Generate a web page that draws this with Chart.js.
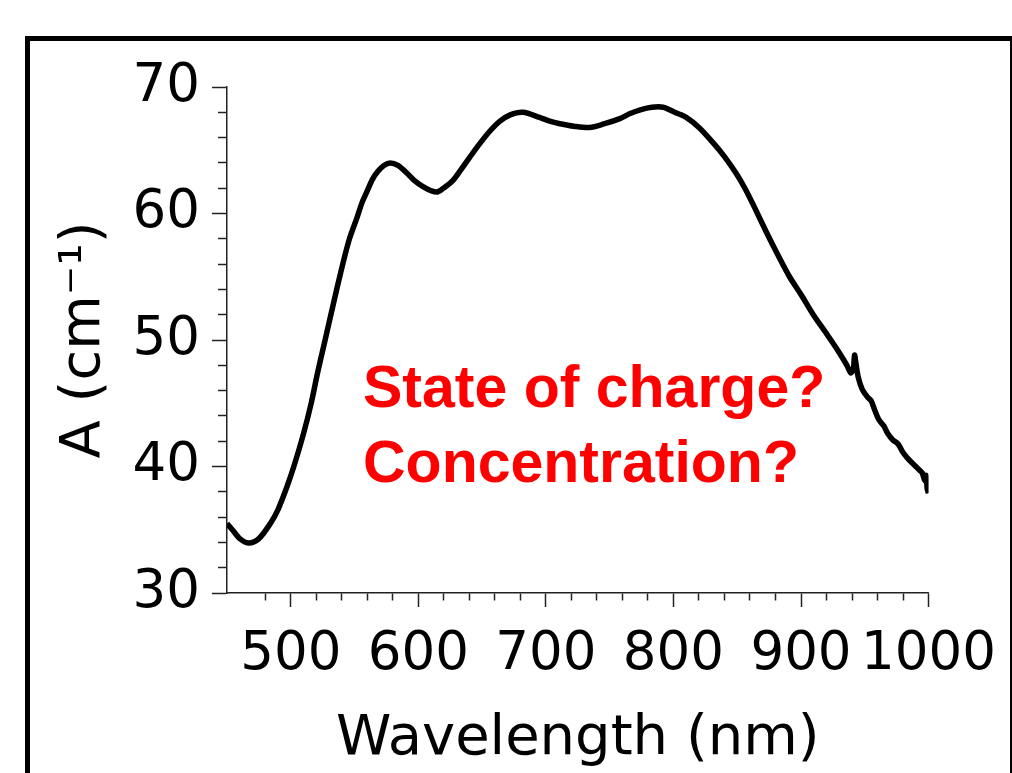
<!DOCTYPE html>
<html>
<head>
<meta charset="utf-8">
<script src="https://cdn.jsdelivr.net/npm/chart.js@4/dist/chart.umd.min.js"></script>
<style>
  html, body { margin: 0; padding: 0; background: #fff; }
  canvas { display: block; }
</style>
</head>
<body>
<canvas id="myChart" width="1012" height="773"></canvas>
<script>
// wavelength (nm) and absorbance A (cm-1)
const wavelengths = [450, 455, 460, 467, 475, 484, 490, 497, 503, 510, 516, 521, 526, 531, 536, 541, 546, 552, 556, 560,
  564, 568, 573, 578, 584, 591, 597, 604, 610, 615, 621, 627, 633, 640, 648, 656, 664, 672, 682, 695,
  703, 711, 722, 734, 746, 758, 766, 774, 783, 792, 801, 810, 820, 831, 840, 849, 856, 863, 873, 882,
  891, 900, 909, 920, 930, 936, 939, 941, 942, 943, 945, 948, 952, 955, 958, 961, 965, 968, 972, 976,
  980, 984, 987, 990, 993, 995, 997, 998, 999, 1000];
const absorbance = [35.5, 34.9, 34.3, 33.95, 34.3, 35.5, 36.6, 38.4, 40.2, 42.6, 45.0, 47.4, 49.6, 51.8, 54.0, 56.1, 58.0, 59.7, 60.9, 61.8,
  62.7, 63.3, 63.8, 64.0, 63.8, 63.2, 62.6, 62.1, 61.8, 61.7, 62.1, 62.6, 63.4, 64.4, 65.5, 66.5, 67.3, 67.8, 68.0, 67.6,
  67.3, 67.1, 66.9, 66.8, 67.1, 67.5, 67.9, 68.2, 68.4, 68.4, 68.0, 67.6, 66.8, 65.6, 64.5, 63.2, 62.0, 60.6, 58.5, 56.7,
  55.0, 53.6, 52.1, 50.5, 49.0, 48.0, 47.4, 47.7, 48.8, 48.2, 47.0, 46.1, 45.5, 45.2, 44.4, 43.7, 43.2, 42.6, 42.1, 41.8,
  41.1, 40.6, 40.3, 40.0, 39.7, 39.5, 38.9, 39.3, 38.2, 37.9];
const xRange = [450, 1000];
const yRange = [30, 70];
const xTitle = 'Wavelength (nm)';
const yTitle = 'A (cm\u207B\u00B9)';
const notes = ['State of charge?', 'Concentration?'];

const axisFont = 'DejaVu Sans';

let points = [];
wavelengths.forEach(function (w, i) {
  points.push({ x: w, y: absorbance[i] });
});

// black frame round the figure
const framePlugin = {
  id: 'frame',
  beforeDraw: function (chart) {
    const c = chart.ctx;
    c.save();
    c.fillStyle = '#fff';
    c.fillRect(0, 0, chart.width, chart.height);
    c.strokeStyle = '#000';
    c.lineWidth = 5;
    c.strokeRect(27.5, 38.5, 985, 800);
    c.restore();
  }
};

// red question text
const notesPlugin = {
  id: 'notes',
  afterDraw: function (chart) {
    const c = chart.ctx;
    c.save();
    c.fillStyle = '#ff0000';
    c.font = 'bold 59px "Liberation Sans"';
    c.textAlign = 'left';
    c.textBaseline = 'alphabetic';
    c.fillText(notes[0], 363, 407);
    c.fillText(notes[1], 363, 482);
    c.restore();
  }
};

new Chart(document.getElementById('myChart'), {
  type: 'scatter',
  data: {
    datasets: [{
      data: points,
      showLine: true,
      borderColor: '#000',
      borderWidth: 5.5,
      pointRadius: 0,
      tension: 0.3,
      fill: false
    }]
  },
  options: {
    responsive: false,
    animation: false,
    layout: { padding: { top: 87, right: 82, left: 0, bottom: 0 } },
    plugins: {
      legend: { display: false },
      tooltip: { enabled: false }
    },
    scales: {
      x: {
        type: 'linear',
        min: xRange[0],
        max: xRange[1],
        bounds: 'ticks',
        afterFit: function (s) { s.height = 180; },
        ticks: {
          stepSize: 20,
          includeBounds: true,
          autoSkip: false,
          maxRotation: 0,
          padding: 16,
          color: '#000',
          font: { family: axisFont, size: 53 },
          callback: function (v) { return (v % 100 === 0 && v !== xRange[0]) ? String(v) : ''; }
        },
        grid: {
          drawOnChartArea: false,
          tickLength: 14,
          tickWidth: 1.5,
          tickColor: function (ctx) {
            return (ctx.tick && ctx.tick.value === xRange[0]) ? 'rgba(0,0,0,0)' : '#222';
          },
          tickBorderDash: function (ctx) {
            return (ctx.tick && ctx.tick.value % 100 !== 0) ? [7, 20] : [];
          }
        },
        border: { color: '#222', width: 1.5 },
        title: {
          display: true,
          text: xTitle,
          color: '#000',
          font: { family: axisFont, size: 56 },
          padding: { top: 0, bottom: 0 }
        }
      },
      y: {
        type: 'linear',
        min: yRange[0],
        max: yRange[1],
        bounds: 'data',
        afterFit: function (s) { s.width = 227; },
        ticks: {
          stepSize: 2,
          autoSkip: false,
          padding: 12,
          color: '#000',
          font: { family: axisFont, size: 53 },
          callback: function (v) { return v % 10 === 0 ? String(v) : ''; }
        },
        grid: {
          drawOnChartArea: false,
          tickLength: 15,
          tickWidth: 1.5,
          tickColor: '#222',
          tickBorderDash: function (ctx) {
            return (ctx.tick && ctx.tick.value % 10 !== 0) ? [9, 6] : [];
          },
          tickBorderDashOffset: function (ctx) {
            return (ctx.tick && ctx.tick.value % 10 !== 0) ? 9 : 0;
          }
        },
        border: { color: '#222', width: 1.5 },
        title: {
          display: true,
          text: yTitle,
          color: '#000',
          font: { family: axisFont, size: 56 },
          padding: { top: 51, bottom: 0 }
        }
      }
    }
  },
  plugins: [framePlugin, notesPlugin]
});
</script>
</body>
</html>
